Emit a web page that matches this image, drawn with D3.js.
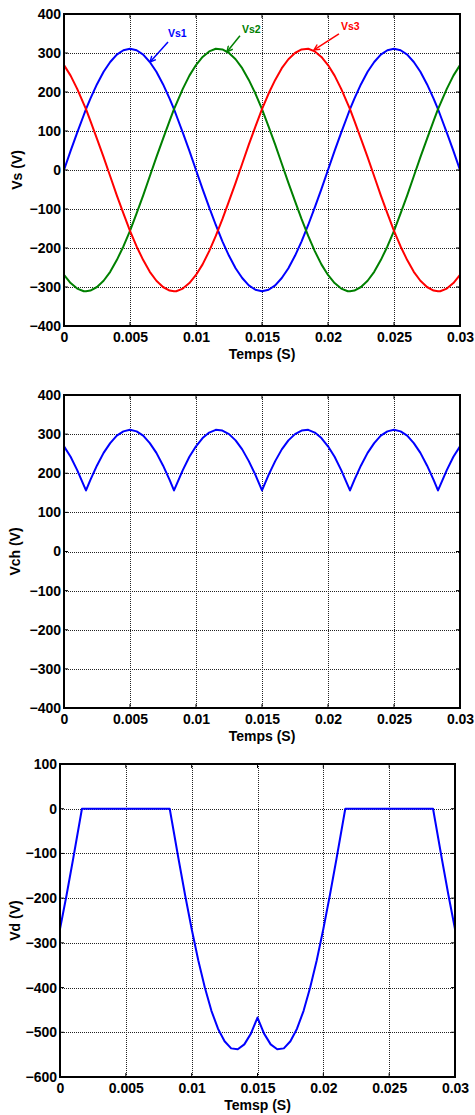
<!DOCTYPE html>
<html>
<head>
<meta charset="utf-8">
<script src="https://cdn.jsdelivr.net/npm/d3@7"></script>
<style>
  body { margin: 0; background: #fff; }
  svg { display: block; }
  text { font-family: "Liberation Sans", Arial, sans-serif; font-weight: bold; fill: #000; }
</style>
</head>
<body>
<svg id="chart" width="475" height="1115"></svg>
<script>
// Sample instants (s), with the commutation instants included
const time = [0, 0.0005, 0.001, 0.0015, 0.001667, 0.002, 0.0025, 0.003, 0.0035, 0.004, 0.0045,
  0.005, 0.0055, 0.006, 0.0065, 0.007, 0.0075, 0.008, 0.008333, 0.0085, 0.009, 0.0095,
  0.01, 0.0105, 0.011, 0.0115, 0.012, 0.0125, 0.013, 0.0135, 0.014, 0.0145,
  0.015, 0.0155, 0.016, 0.0165, 0.017, 0.0175, 0.018, 0.0185, 0.019, 0.0195,
  0.02, 0.0205, 0.021, 0.0215, 0.021667, 0.022, 0.0225, 0.023, 0.0235, 0.024, 0.0245,
  0.025, 0.0255, 0.026, 0.0265, 0.027, 0.0275, 0.028, 0.028333, 0.0285, 0.029, 0.0295, 0.03];

// Phase voltages (V)
const vs1 = [0, 49, 96, 141, 156, 183, 220, 252, 277, 296, 307,
  311, 307, 296, 277, 252, 220, 183, 156, 141, 96, 49,
  0, -49, -96, -141, -183, -220, -252, -277, -296, -307,
  -311, -307, -296, -277, -252, -220, -183, -141, -96, -49,
  0, 49, 96, 141, 156, 183, 220, 252, 277, 296, 307,
  311, 307, 296, 277, 252, 220, 183, 156, 141, 96, 49, 0];

const vs2 = [-269, -290, -304, -311, -311, -309, -300, -284, -261, -231, -196,
  -156, -111, -65, -16, 33, 80, 126, 156, 169, 208, 242,
  269, 290, 304, 311, 309, 300, 284, 261, 231, 196,
  156, 111, 65, 16, -33, -80, -126, -169, -208, -242,
  -269, -290, -304, -311, -311, -309, -300, -284, -261, -231, -196,
  -156, -111, -65, -16, 33, 80, 126, 156, 169, 208, 242, 269];

const vs3 = [269, 242, 208, 169, 156, 126, 80, 33, -16, -65, -111,
  -156, -196, -231, -261, -284, -300, -309, -311, -311, -304, -290,
  -269, -242, -208, -169, -126, -80, -33, 16, 65, 111,
  156, 196, 231, 261, 284, 300, 309, 311, 304, 290,
  269, 242, 208, 169, 156, 126, 80, 33, -16, -65, -111,
  -156, -196, -231, -261, -284, -300, -309, -311, -311, -304, -290, -269];

// Load voltage (V)
const vch = [269, 242, 208, 169, 156, 183, 220, 252, 277, 296, 307,
  311, 307, 296, 277, 252, 220, 183, 156, 169, 208, 242,
  269, 290, 304, 311, 309, 300, 284, 261, 231, 196,
  156, 196, 231, 261, 284, 300, 309, 311, 304, 290,
  269, 242, 208, 169, 156, 183, 220, 252, 277, 296, 307,
  311, 307, 296, 277, 252, 220, 183, 156, 169, 208, 242, 269];

// Diode voltage (V)
const vd = [-269, -193, -112, -28, 0, 0, 0, 0, 0, 0, 0,
  0, 0, 0, 0, 0, 0, 0, 0, -28, -112, -193,
  -269, -339, -400, -452, -492, -520, -536, -538, -527, -503,
  -467, -503, -527, -538, -536, -520, -492, -452, -400, -339,
  -269, -193, -112, -28, 0, 0, 0, 0, 0, 0, 0,
  0, 0, 0, 0, 0, 0, 0, 0, -28, -112, -193, -269];

const xTicks = [0, 0.005, 0.01, 0.015, 0.02, 0.025, 0.03];
const xTickLabels = ["0", "0.005", "0.01", "0.015", "0.02", "0.025", "0.03"];
const yTicksVs = [-400, -300, -200, -100, 0, 100, 200, 300, 400];
const yTicksVd = [-600, -500, -400, -300, -200, -100, 0, 100];

// Phase labels with their arrows: label anchor and arrow tail/tip, in data units
const phaseLabels = [
  { name: "Vs1", color: "#0000ff", tx: 0.00788, ty: 341, x0: 0.00788, y0: 328, x1: 0.00652, y1: 277 },
  { name: "Vs2", color: "#008000", tx: 0.01348, ty: 351, x0: 0.01333, y0: 344, x1: 0.01235, y1: 303 },
  { name: "Vs3", color: "#ff0000", tx: 0.02098, ty: 359, x0: 0.02083, y0: 349, x1: 0.01894, y1: 308 }
];

const svg = d3.select("#chart");

function drawPanel(cfg) {
  const x = d3.scaleLinear().domain([0, 0.03]).range([cfg.left, cfg.right]);
  const y = d3.scaleLinear().domain(cfg.yDomain).range([cfg.bottom, cfg.top]);
  const g = svg.append("g");
  const clipId = "clip" + cfg.id;

  g.append("clipPath").attr("id", clipId).append("rect")
    .attr("x", cfg.left).attr("y", cfg.top)
    .attr("width", cfg.right - cfg.left).attr("height", cfg.bottom - cfg.top);

  // dotted grid
  const grid = g.append("g").attr("stroke", "#222").attr("stroke-width", 1)
    .attr("stroke-dasharray", "1,1").attr("shape-rendering", "crispEdges");
  grid.selectAll("line.v").data(xTicks.slice(1, -1)).join("line")
    .attr("x1", d => Math.round(x(d)) + 0.5).attr("x2", d => Math.round(x(d)) + 0.5)
    .attr("y1", cfg.top).attr("y2", cfg.bottom);
  grid.selectAll("line.h").data(cfg.yTicks.slice(1, -1)).join("line")
    .attr("y1", d => Math.round(y(d)) + 0.5).attr("y2", d => Math.round(y(d)) + 0.5)
    .attr("x1", cfg.left).attr("x2", cfg.right);

  // series
  const line = d3.line().x((d, i) => x(time[i])).y(d => y(d));
  const lines = g.append("g").attr("clip-path", `url(#${clipId})`);
  cfg.series.forEach(s => {
    lines.append("path").datum(s.values)
      .attr("d", line).attr("fill", "none")
      .attr("stroke", s.color).attr("stroke-width", 2)
      .attr("stroke-linejoin", "round");
  });

  // axes: labels only, the frame is drawn separately
  const xAxis = d3.axisBottom(x).tickValues(xTicks)
    .tickFormat((d, i) => xTickLabels[i]).tickSize(0).tickPadding(6);
  g.append("g").attr("transform", `translate(0,${cfg.bottom})`).call(xAxis)
    .call(a => a.select(".domain").remove())
    .selectAll("text").style("font-size", "14px").style("font-weight", "bold")
    .style("font-family", "'Liberation Sans', Arial, sans-serif").attr("fill", "#000");

  const yAxis = d3.axisLeft(y).tickValues(cfg.yTicks)
    .tickFormat(d3.format("d")).tickSize(0).tickPadding(3);
  g.append("g").attr("transform", `translate(${cfg.left},0)`).call(yAxis)
    .call(a => a.select(".domain").remove())
    .selectAll("text").style("font-size", "14px").style("font-weight", "bold")
    .style("font-family", "'Liberation Sans', Arial, sans-serif").attr("fill", "#000");

  // inward ticks on all four sides
  const tk = g.append("g").attr("stroke", "#000").attr("stroke-width", 1);
  xTicks.forEach(d => {
    tk.append("line").attr("x1", x(d)).attr("x2", x(d)).attr("y1", cfg.bottom).attr("y2", cfg.bottom - 4);
    tk.append("line").attr("x1", x(d)).attr("x2", x(d)).attr("y1", cfg.top).attr("y2", cfg.top + 4);
  });
  cfg.yTicks.forEach(d => {
    tk.append("line").attr("y1", y(d)).attr("y2", y(d)).attr("x1", cfg.left).attr("x2", cfg.left + 4);
    tk.append("line").attr("y1", y(d)).attr("y2", y(d)).attr("x1", cfg.right).attr("x2", cfg.right - 4);
  });

  // frame
  g.append("rect").attr("x", cfg.left).attr("y", cfg.top)
    .attr("width", cfg.right - cfg.left).attr("height", cfg.bottom - cfg.top)
    .attr("fill", "none").attr("stroke", "#000").attr("stroke-width", 2);

  // axis titles
  g.append("text").attr("x", (cfg.left + cfg.right) / 2).attr("y", cfg.bottom + 33)
    .attr("text-anchor", "middle").style("font-size", "14px").text(cfg.xTitle);
  g.append("text")
    .attr("transform", `translate(${cfg.yTitleX},${(cfg.top + cfg.bottom) / 2}) rotate(-90)`)
    .attr("text-anchor", "middle").style("font-size", "14px").text(cfg.yTitle);

  return { x, y, g };
}

const p1 = drawPanel({
  id: 1, left: 64, right: 460, top: 14, bottom: 326,
  yDomain: [-400, 400], yTicks: yTicksVs,
  series: [
    { values: vs1, color: "#0000ff" },
    { values: vs2, color: "#008000" },
    { values: vs3, color: "#ff0000" }
  ],
  xTitle: "Temps (S)", yTitle: "Vs (V)", yTitleX: 22
});

// phase labels and arrows
const defs = svg.append("defs");
phaseLabels.forEach((a, i) => {
  defs.append("marker").attr("id", "arrow" + i)
    .attr("viewBox", "0 0 10 10").attr("refX", 9).attr("refY", 5)
    .attr("markerWidth", 7).attr("markerHeight", 7).attr("markerUnits", "userSpaceOnUse")
    .attr("orient", "auto")
    .append("path").attr("d", "M1,1 L9,5 L1,9").attr("fill", "none")
    .attr("stroke", a.color).attr("stroke-width", 2);
  p1.g.append("line")
    .attr("x1", p1.x(a.x0)).attr("y1", p1.y(a.y0))
    .attr("x2", p1.x(a.x1)).attr("y2", p1.y(a.y1))
    .attr("stroke", a.color).attr("stroke-width", 1.5)
    .attr("marker-end", `url(#arrow${i})`);
  p1.g.append("text").attr("x", p1.x(a.tx)).attr("y", p1.y(a.ty))
    .style("font-size", "10.5px").style("fill", a.color).text(a.name);
});

drawPanel({
  id: 2, left: 64, right: 460, top: 395, bottom: 708,
  yDomain: [-400, 400], yTicks: yTicksVs,
  series: [{ values: vch, color: "#0000ff" }],
  xTitle: "Temps (S)", yTitle: "Vch (V)", yTitleX: 20
});

drawPanel({
  id: 3, left: 60, right: 455, top: 764, bottom: 1077,
  yDomain: [-600, 100], yTicks: yTicksVd,
  series: [{ values: vd, color: "#0000ff" }],
  xTitle: "Temsp (S)", yTitle: "Vd (V)", yTitleX: 20
});
</script>
</body>
</html>
